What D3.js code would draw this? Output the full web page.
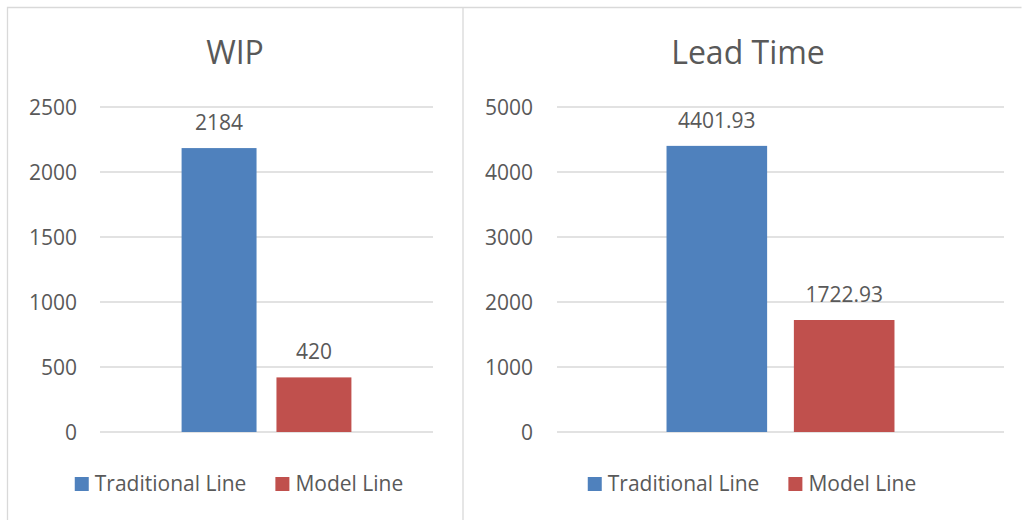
<!DOCTYPE html>
<html>
<head>
<meta charset="utf-8">
<script src="https://cdn.jsdelivr.net/npm/d3@7"></script>
<style>
  body { margin: 0; background: #fff; }
  text { font-family: "Open Sans", "Segoe UI", sans-serif; fill: #595959; }
</style>
</head>
<body>
<div id="chart"></div>
<script>
const series = ["Traditional Line", "Model Line"];
const colors = ["#4F81BD", "#C0504D"];

const wipValues = [2184, 420];
const wipLabels = ["2184", "420"];
const wipTicks = [0, 500, 1000, 1500, 2000, 2500];

const leadValues = [4401.93, 1722.93];
const leadLabels = ["4401.93", "1722.93"];
const leadTicks = [0, 1000, 2000, 3000, 4000, 5000];

const W = 1022, H = 520;
const svg = d3.select("#chart").append("svg")
  .attr("width", W).attr("height", H);

// panel borders
svg.append("path")
  .attr("d", "M7.5,540 V7.5 H1021.5")
  .style("fill", "none").style("stroke", "#d9d9d9").style("stroke-width", "1.3px");
svg.append("line")
  .attr("x1", 463).attr("x2", 463).attr("y1", 7.5).attr("y2", 540)
  .style("stroke", "#d9d9d9").style("stroke-width", "1.3px");

const panels = [
  { title: "WIP", values: wipValues, labels: wipLabels, ticks: wipTicks,
    left: 100, right: 433, tickX: 77, titleX: 235, legendX: 239 },
  { title: "Lead Time", values: leadValues, labels: leadLabels, ticks: leadTicks,
    left: 557, right: 1004, tickX: 533, titleX: 748, legendX: 752 }
];

const plotTop = 107, plotBottom = 432;

panels.forEach(p => {
  const g = svg.append("g");

  const y = d3.scaleLinear()
    .domain([0, d3.max(p.ticks)])
    .range([plotBottom, plotTop]);

  const x = d3.scaleBand()
    .domain(series)
    .range([p.left, p.right])
    .paddingInner(0.21)
    .paddingOuter(0.86);

  g.append("text")
    .attr("x", p.titleX).attr("y", 64)
    .attr("text-anchor", "middle")
    .style("font-size", "32px")
    .text(p.title);

  g.selectAll(".grid")
    .data(p.ticks)
    .enter().append("line")
    .attr("x1", p.left).attr("x2", p.right)
    .attr("y1", d => y(d)).attr("y2", d => y(d))
    .style("stroke", "#d9d9d9").style("stroke-width", "1.3px");

  g.selectAll(".tick")
    .data(p.ticks)
    .enter().append("text")
    .attr("x", p.tickX).attr("y", d => y(d) + 8)
    .attr("text-anchor", "end")
    .style("font-size", "21px")
    .text(d => d);

  g.selectAll(".bar")
    .data(p.values)
    .enter().append("rect")
    .attr("x", (d, i) => x(series[i]))
    .attr("width", x.bandwidth())
    .attr("y", d => y(d))
    .attr("height", d => plotBottom - y(d))
    .style("fill", (d, i) => colors[i]);

  g.selectAll(".label")
    .data(p.values)
    .enter().append("text")
    .attr("x", (d, i) => x(series[i]) + x.bandwidth() / 2)
    .attr("y", d => y(d) - 18)
    .attr("text-anchor", "middle")
    .style("font-size", "21px")
    .text((d, i) => p.labels[i]);

  // legend, centered on legendX
  const leg = g.append("g");
  let cx = 0;
  series.forEach((s, i) => {
    leg.append("rect")
      .attr("x", cx).attr("y", 477)
      .attr("width", 14).attr("height", 14)
      .style("fill", colors[i]);
    const t = leg.append("text")
      .attr("x", cx + 20).attr("y", 491)
      .style("font-size", "21px")
      .text(s);
    cx += 20 + t.node().getComputedTextLength() + 29;
  });
  const legW = cx - 29;
  leg.attr("transform", `translate(${p.legendX - legW / 2},0)`);
});
</script>
</body>
</html>
